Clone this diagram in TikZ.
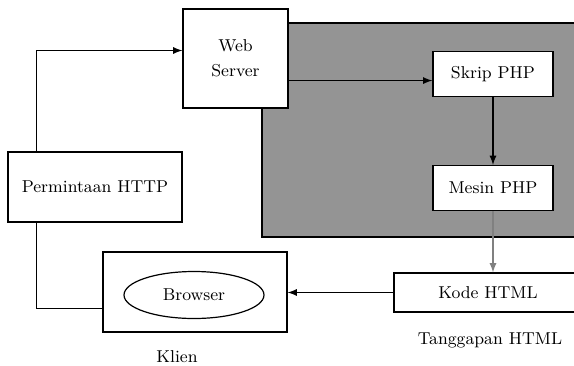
\documentclass[tikz,border=0pt]{standalone}
\usepackage{tikz}
\usetikzlibrary{arrows,shapes}
\usetikzlibrary{calc}
\definecolor{servergray}{RGB}{148,148,148}
\tikzstyle{box}=[rectangle,draw,fill=white,line width=0.6pt,inner sep=0pt,align=center]
\tikzstyle{oval}=[ellipse,draw,line width=0.6pt,inner sep=0pt]
\tikzstyle{edge} = [draw,line width=0.6pt,-latex]
\tikzstyle{plainedge} = [draw,line width=0.6pt]

\begin{document}
\begin{tikzpicture}[x=0.5pt,y=-0.5pt,font=\fontsize{8.6}{12.5}\selectfont]
    \useasboundingbox (0,0) rectangle (574,365);
    \clip (0,0) rectangle (574,365);
    % server side: the gray area
    \draw[fill=servergray,line width=0.6pt] (262,23) rectangle (590,237);

    % the boxes
    \node[box,minimum width=52.5pt,minimum height=49.5pt] (web) at (235.5,58.5) {Web\\Server};
    \foreach \pos/\name/\txt in {{(493,74)/skrip/Skrip PHP}, {(493,188)/mesin/Mesin PHP}}
        \node[box,minimum width=60pt,minimum height=22.5pt] (\name) at \pos {\txt};
    \node[box,minimum width=87pt,minimum height=35pt] (permintaan) at (95,187) {Permintaan HTTP};
    \node[box,minimum width=92pt,minimum height=40pt] (klienbox) at (195,292) {};
    \node[oval,minimum width=70pt,minimum height=23.5pt] (browser) at (194,295) {Browser};
    \node[box,minimum width=94pt,minimum height=19.5pt] (kode) at (488,292.5) {Kode HTML};
    \node (klien) at (177,357) {Klien};
    \node (tanggapan) at (490,340) {Tanggapan HTML};

    % request goes up to the web server
    \coordinate (req) at ($(permintaan.north west)+(29,0)$);
    \coordinate (reqin) at ($(web.north west)!0.42!(web.south west)$);
    \path[edge] (req) |- (reqin);
    \coordinate (webout) at ($(web.north east)!0.72!(web.south east)$);
    \path[edge] (webout) -- (webout -| skrip.west);
    \path[edge] (skrip) -- (mesin);
    \path[edge,draw=black!50] (mesin.south) -- (mesin.south |- kode.north);
    % response back to the client
    \path[edge] (kode.west) -- (kode.west -| klienbox.east);
    \coordinate (resp) at ($(permintaan.south west)+(29,0)$);
    \coordinate (respin) at ($(klienbox.north west)!0.7!(klienbox.south west)$);
    \path[plainedge] (resp) |- (respin);
\end{tikzpicture}
\end{document}
